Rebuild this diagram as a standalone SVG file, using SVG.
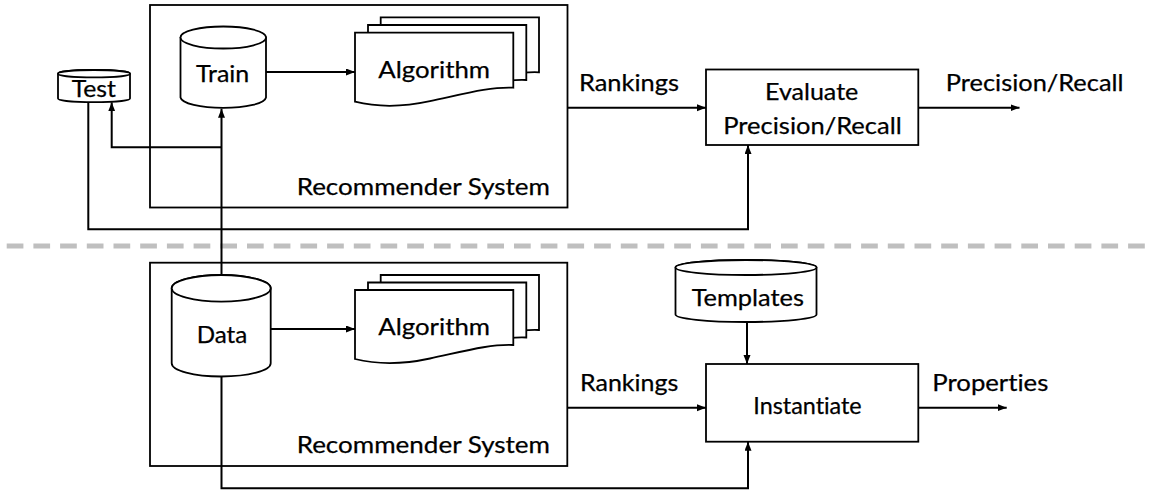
<svg xmlns="http://www.w3.org/2000/svg" width="1153" height="491" viewBox="0 0 1153 491">
<style>
  .shape { fill: #fff; stroke: #000; stroke-width: 1.8; }
  .conn { fill: none; stroke: #000; stroke-width: 2; marker-end: url(#arrow); }
  text { font-family: Lato, "Liberation Sans", sans-serif; font-size: 24px; fill: #000; stroke: #000; stroke-width: 0.25; font-variant-ligatures: none; }
  .sep { stroke: #BFBFBF; stroke-width: 4.8; stroke-dasharray: 16.7 10; }
</style>
<defs>
  <marker id="arrow" markerUnits="userSpaceOnUse" markerWidth="10" markerHeight="8" refX="9" refY="3.5" orient="auto">
    <path d="M0,0 L9,3.5 L0,7 Z" fill="#000"/>
  </marker>
  <path id="doc" d="M0,0 H158.3 V55 C135,54 110,61 75,68.5 C45,75 20,74 0,69 Z"/>
</defs>

<line class="sep" x1="6.7" y1="246" x2="1153" y2="246"/>

<g id="rs-top">
  <rect class="shape" x="150" y="5" width="417.5" height="202.5"/>
  <text x="296.7" y="194.5" textLength="253.3" lengthAdjust="spacingAndGlyphs">Recommender System</text>
</g>
<g id="rs-bottom">
  <rect class="shape" x="150" y="262.7" width="417.3" height="203.3"/>
  <text x="296.7" y="453" textLength="253.3" lengthAdjust="spacingAndGlyphs">Recommender System</text>
</g>

<g id="test">
  <path class="shape" d="M58,73.7 V98.5 A36,3.7 0 0 0 130,98.5 V73.7 A36,3.7 0 0 0 58,73.7 Z"/>
  <ellipse class="shape" cx="94" cy="73.7" rx="36" ry="3.7"/>
  <text x="71.7" y="96.5" textLength="44.3" lengthAdjust="spacingAndGlyphs">Test</text>
</g>

<g id="train">
  <path class="shape" d="M180.5,37.5 V97.5 A42.8,11 0 0 0 266,97.5 V37.5 A42.8,11 0 0 0 180.5,37.5 Z"/>
  <ellipse class="shape" cx="223.3" cy="37.5" rx="42.8" ry="11"/>
  <text x="196" y="82" textLength="53.3" lengthAdjust="spacingAndGlyphs">Train</text>
</g>

<g id="algorithm-top">
  <use href="#doc" class="shape" x="380.7" y="17.3"/>
  <use href="#doc" class="shape" x="368" y="25"/>
  <use href="#doc" class="shape" x="355" y="32.7"/>
  <text x="378.3" y="77.5" textLength="111.7" lengthAdjust="spacingAndGlyphs">Algorithm</text>
</g>

<g id="evaluate">
  <rect class="shape" x="706" y="69.5" width="212.3" height="75.5"/>
  <text x="765" y="100" textLength="93.3" lengthAdjust="spacingAndGlyphs">Evaluate</text>
  <text x="723.3" y="133.5" textLength="178.4" lengthAdjust="spacingAndGlyphs">Precision/Recall</text>
</g>

<g id="data">
  <path class="shape" d="M171.7,288.3 V363.2 A49.5,13.3 0 0 0 270.7,363.2 V288.3 A49.5,13.3 0 0 0 171.7,288.3 Z"/>
  <ellipse class="shape" cx="221.2" cy="288.3" rx="49.5" ry="13.3"/>
  <text x="196.7" y="342.5" textLength="50.6" lengthAdjust="spacingAndGlyphs">Data</text>
</g>

<g id="algorithm-bottom">
  <use href="#doc" class="shape" x="380.7" y="275"/>
  <use href="#doc" class="shape" x="368" y="282.5"/>
  <use href="#doc" class="shape" x="355" y="290"/>
  <text x="378.3" y="334.5" textLength="111.7" lengthAdjust="spacingAndGlyphs">Algorithm</text>
</g>

<g id="templates">
  <path class="shape" d="M675.5,267.5 V314.5 A70.5,7.5 0 0 0 816.5,314.5 V267.5 A70.5,7.5 0 0 0 675.5,267.5 Z"/>
  <ellipse class="shape" cx="746" cy="267.5" rx="70.5" ry="7.5"/>
  <text x="691.7" y="305.5" textLength="112.3" lengthAdjust="spacingAndGlyphs">Templates</text>
</g>

<g id="instantiate">
  <rect class="shape" x="706" y="364" width="212.3" height="77.7"/>
  <text x="753.3" y="414" textLength="108.4" lengthAdjust="spacingAndGlyphs">Instantiate</text>
</g>

<g id="labels">
  <text x="579" y="91" textLength="100" lengthAdjust="spacingAndGlyphs">Rankings</text>
  <text x="945.8" y="91" textLength="177.7" lengthAdjust="spacingAndGlyphs">Precision/Recall</text>
  <text x="580" y="391" textLength="98.3" lengthAdjust="spacingAndGlyphs">Rankings</text>
  <text x="932.3" y="391" textLength="116" lengthAdjust="spacingAndGlyphs">Properties</text>
</g>

<g id="connectors">
  <path class="conn" d="M266,72 H355"/>
  <path class="conn" d="M567.5,107.7 H706"/>
  <path class="conn" d="M918.3,107.7 H1019.5"/>
  <path class="conn" d="M221.5,275 V108.7"/>
  <path class="conn" d="M221.5,147.3 H111.7 V102.3"/>
  <path class="conn" d="M88.3,102.3 V229.3 H748 V145"/>
  <path class="conn" d="M270.7,329 H355"/>
  <path class="conn" d="M567.3,407.7 H706"/>
  <path class="conn" d="M918.3,407.7 H1006.7"/>
  <path class="conn" d="M747,322 V364"/>
  <path class="conn" d="M221.5,376.5 V488.3 H748 V441.7"/>
</g>
</svg>
